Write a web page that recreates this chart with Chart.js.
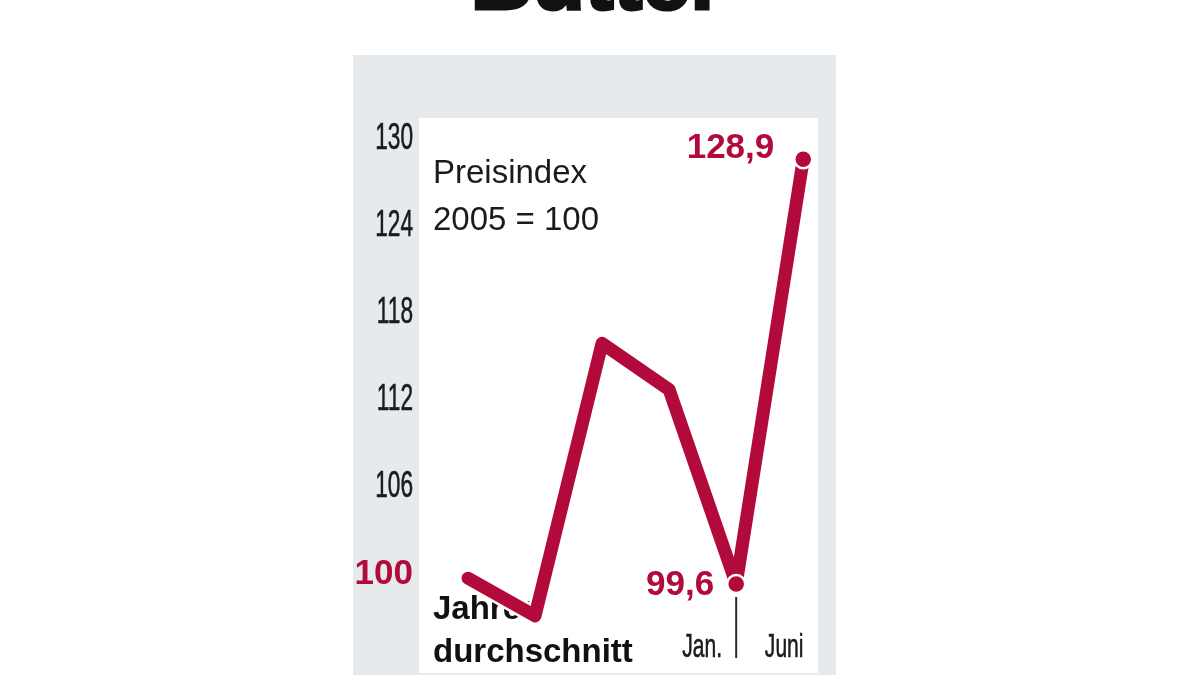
<!DOCTYPE html>
<html>
<head>
<meta charset="utf-8">
<script src="https://cdn.jsdelivr.net/npm/chart.js@4/dist/chart.umd.min.js"></script>
<style>
  html, body { margin: 0; padding: 0; background: #ffffff; }
  #wrap { width: 1200px; height: 675px; position: relative; }
</style>
</head>
<body>
<div id="wrap"><canvas id="c" width="1200" height="675"></canvas></div>
<script>
// ---- data ----
const chartTitle = 'Butter';
const categories = ['2005', '2006', '2007', '2008', 'Jan.', 'Juni'];
const indexValues = [100, 97.4, 116.2, 113.0, 99.6, 128.9];
const valueLabels = ['', '', '', '', '99,6', '128,9'];
const yTickLabels = [100, 106, 112, 118, 124, 130];
const noteLines = ['Preisindex', '2005 = 100'];
const periodLines = ['Jahres', 'durchschnitt'];
const monthLabels = ['Jan.', 'Juni'];

const RED = '#b20a3a';
const INK = '#1b1b1b';
const PANEL = '#e7eaed';

function condText(ctx, text, x, y, font, sx, align, color, stroke) {
  ctx.save();
  ctx.translate(x, y);
  ctx.scale(sx, 1);
  ctx.font = font;
  ctx.textAlign = align;
  ctx.textBaseline = 'middle';
  ctx.fillStyle = color;
  ctx.fillText(text, 0, 0);
  if (stroke) {
    ctx.strokeStyle = color;
    ctx.lineWidth = stroke;
    ctx.strokeText(text, 0, 0);
  }
  ctx.restore();
}

const decor = {
  id: 'decor',
  beforeDraw(chart) {
    const ctx = chart.ctx;
    const a = chart.chartArea;
    ctx.save();
    // title (cut at top)
    ctx.font = 'bold 86px "Liberation Sans", Arial, sans-serif';
    ctx.fillStyle = '#111111';
    ctx.strokeStyle = '#111111';
    ctx.lineWidth = 3;
    ctx.textAlign = 'center';
    ctx.textBaseline = 'alphabetic';
    ctx.fillText(chartTitle, 597, 9);
    ctx.strokeText(chartTitle, 597, 9);
    // gray panel
    ctx.fillStyle = PANEL;
    ctx.fillRect(353, 55, 483, 620);
    // white plot area
    ctx.fillStyle = '#ffffff';
    ctx.fillRect(a.left, a.top, a.right - a.left, a.bottom - a.top);
    ctx.restore();
  },
  beforeDatasetsDraw(chart) {
    const ctx = chart.ctx;
    ctx.save();
    ctx.fillStyle = INK;
    ctx.textAlign = 'left';
    ctx.textBaseline = 'middle';
    ctx.font = '33px "Liberation Sans", Arial, sans-serif';
    ctx.fillText(noteLines[0], 433, 174);
    ctx.fillText(noteLines[1], 433, 221);
    ctx.fillStyle = '#111111';
    ctx.font = 'bold 33px "Liberation Sans", Arial, sans-serif';
    ctx.fillText(periodLines[0], 433, 610);
    ctx.fillText(periodLines[1], 433, 653);
    ctx.restore();
  },
  afterDatasetsDraw(chart) {
    const ctx = chart.ctx;
    const ys = chart.scales.y;
    const xs = chart.scales.x;
    // y tick labels
    yTickLabels.forEach(v => {
      const y = ys.getPixelForValue(v) - 4;
      if (v === 100) {
        condText(ctx, String(v), 413, y, 'bold 35px "Liberation Sans", Arial, sans-serif', 1, 'right', RED, 0);
      } else {
        condText(ctx, String(v), 413, y, '36px "Liberation Sans", Arial, sans-serif', 0.63, 'right', INK, 0.6);
      }
    });
    // value labels
    ctx.save();
    ctx.font = 'bold 35px "Liberation Sans", Arial, sans-serif';
    ctx.fillStyle = RED;
    ctx.textAlign = 'right';
    ctx.textBaseline = 'middle';
    valueLabels.forEach((t, i) => {
      if (!t) return;
      const px = xs.getPixelForValue(i);
      const py = ys.getPixelForValue(indexValues[i]);
      if (i === indexValues.length - 1) {
        ctx.fillText(t, px - 29, py - 11);
      } else {
        ctx.fillText(t, px - 22, py + 1);
      }
    });
    ctx.restore();
    // separator at Jan. point
    const sx = xs.getPixelForValue(4);
    ctx.save();
    ctx.strokeStyle = '#2a2a2a';
    ctx.lineWidth = 2;
    ctx.beginPath();
    ctx.moveTo(sx, 597);
    ctx.lineTo(sx, 658);
    ctx.stroke();
    ctx.restore();
    // month labels
    condText(ctx, monthLabels[0], sx - 34, 648, '34px "Liberation Sans", Arial, sans-serif', 0.62, 'center', INK, 0.6);
    condText(ctx, monthLabels[1], sx + 48, 648, '34px "Liberation Sans", Arial, sans-serif', 0.62, 'center', INK, 0.6);
  }
};

const points = indexValues.map((v, i) => ({ x: i, y: v }));

new Chart(document.getElementById('c'), {
  type: 'line',
  data: {
    labels: categories,
    datasets: [
      {
        label: 'Preisindex',
        data: points,
        borderColor: RED,
        borderWidth: 13,
        borderCapStyle: 'round',
        borderJoinStyle: 'round',
        tension: 0,
        fill: false,
        pointRadius: indexValues.map((v, i) => valueLabels[i] ? 9 : 0),
        pointBackgroundColor: RED,
        pointBorderColor: '#ffffff',
        pointBorderWidth: 2.5
      },
      {
        label: 'halo',
        data: points,
        borderColor: '#ffffff',
        borderWidth: 18,
        borderCapStyle: 'round',
        borderJoinStyle: 'round',
        tension: 0,
        fill: false,
        pointRadius: 0
      }
    ]
  },
  options: {
    responsive: false,
    animation: false,
    devicePixelRatio: 1,
    layout: { autoPadding: false, padding: { left: 419, right: 382, top: 118, bottom: 2 } },
    scales: {
      x: { type: 'linear', min: -0.73, max: 5.22, display: false },
      y: { type: 'linear', min: 93.46, max: 131.74, display: false }
    },
    plugins: {
      legend: { display: false },
      title: { display: false },
      tooltip: { enabled: false }
    }
  },
  plugins: [decor]
});
</script>
</body>
</html>
